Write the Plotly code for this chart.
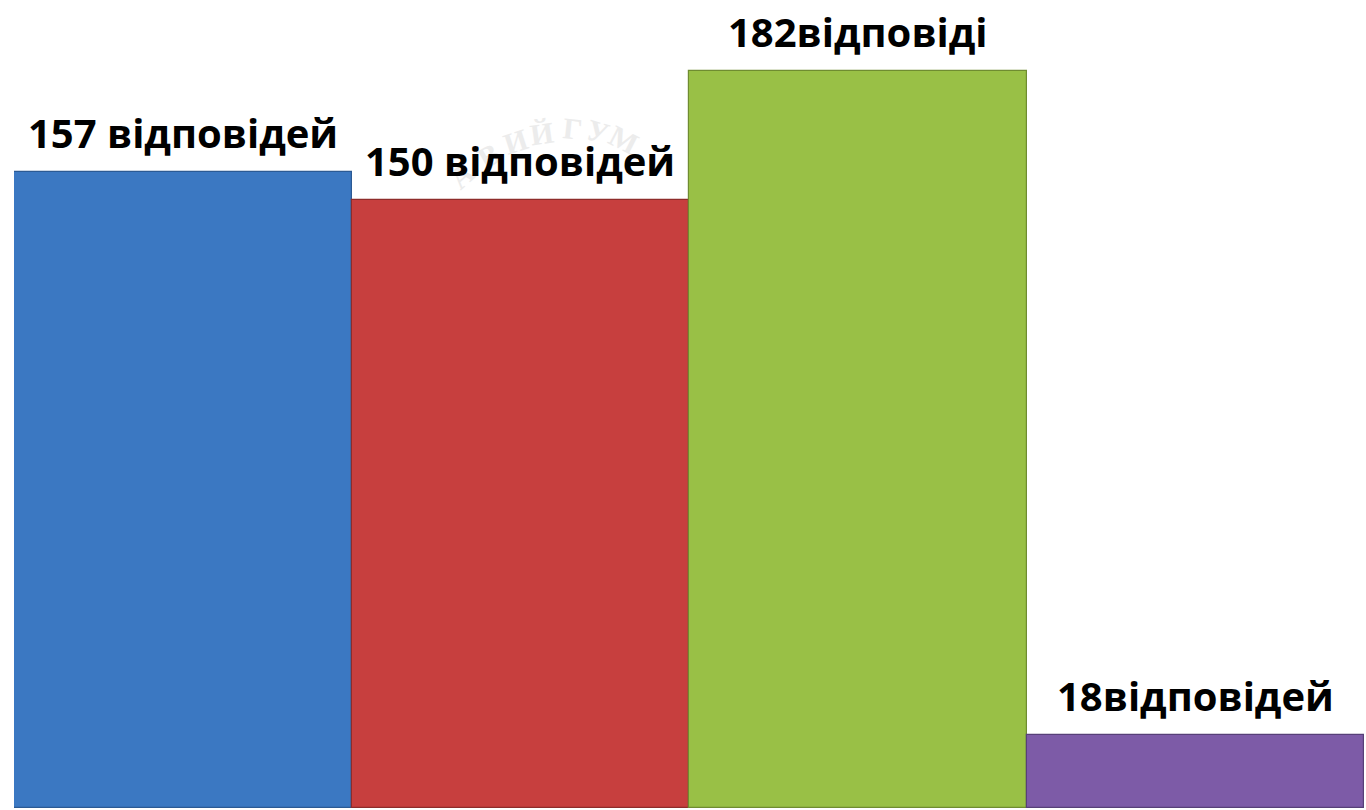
import plotly.graph_objects as go

categories = ["A", "B", "C", "D"]
values = [157, 150, 182, 18]
labels = ["157 відповідей", "150 відповідей", "182відповіді", "18відповідей"]
colors = ["#3b78c2", "#c73f3e", "#99c046", "#7d5ba7"]
edge_colors = ["#2b5a94", "#8e2c2b", "#6f8c30", "#574078"]

# faint seal watermark letters (decorative)
wm_letters = ["А", "В", "И", "Й", "Г", "У", "М"]
wm_pos = [(462, 176, -42), (489, 156, -30), (515, 142, -18), (541, 133, -8),
          (572, 128, 6), (598, 131, 16), (624, 139, 27)]

W, H = 1366, 810
ML, MR, MT, MB = 14, 2, 0, 2

fig = go.Figure()
fig.add_trace(go.Bar(
    x=categories, y=values,
    marker=dict(color=colors, line=dict(color=edge_colors, width=1.2)),
    hoverinfo="skip",
))

annotations = []
for ch, (px, py, rot) in zip(wm_letters, wm_pos):
    annotations.append(dict(
        x=(px - ML) / (W - ML - MR), y=1 - (py - MT) / (H - MT - MB),
        xref="paper", yref="paper", text=ch, showarrow=False,
        textangle=rot, font=dict(family="Liberation Serif", size=30, color="#ececec", weight="bold"),
        xanchor="center", yanchor="middle",
    ))
for c, v, t in zip(categories, values, labels):
    annotations.append(dict(
        x=c, y=v, text=t, showarrow=False, xanchor="center", yanchor="bottom",
        yshift=10,
        font=dict(family="Open Sans", size=40, color="#000000", weight="bold"),
    ))

fig.update_layout(
    width=W, height=H,
    margin=dict(l=ML, r=MR, t=MT, b=MB),
    paper_bgcolor="white", plot_bgcolor="white",
    bargap=0, showlegend=False,
    xaxis=dict(visible=False),
    yaxis=dict(visible=False, range=[0, 199.5]),
    annotations=annotations,
)
fig.write_html("out.html",
               config={"displayModeBar": False},
               post_script="document.body.style.margin='0';document.body.style.overflow='hidden';")
